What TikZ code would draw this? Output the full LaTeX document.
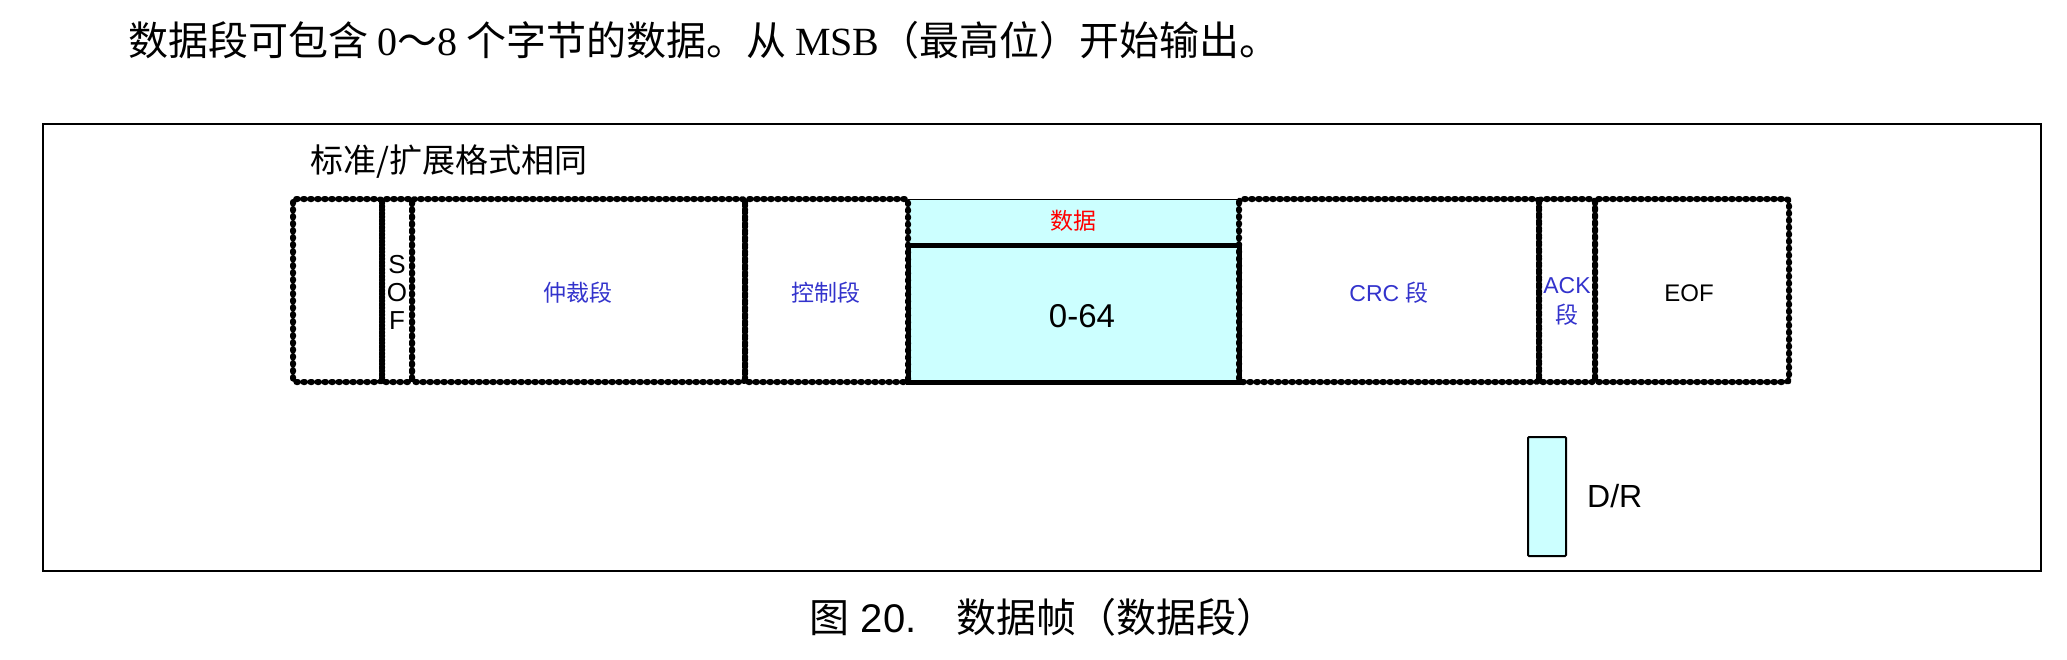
\documentclass[tikz,border=0pt]{standalone}
\usepackage{fontspec}
\setmainfont{Liberation Sans}
\newfontfamily\cjk{Noto Sans CJK SC}
\newfontfamily\serifl{Liberation Serif}
\definecolor{lcyan}{HTML}{CCFFFF}
\definecolor{lblue}{HTML}{3333CC}
\begin{document}
\begin{tikzpicture}[x=1pt,y=-1pt,
  seg/.style={draw, line width=6pt, dash pattern=on 1.6pt off 5.4pt, line cap=round, rounded corners=3pt},
  lbl/.style={font=\fontsize{23}{30}\selectfont, text=lblue, inner sep=0pt, align=center},
  blk/.style={font=\fontsize{26}{28}\selectfont, text=black, inner sep=0pt, align=center}]
\useasboundingbox (0,0) rectangle (2067,659);
% top sentence
\node[anchor=west, inner sep=0pt, font=\fontsize{40}{44}\selectfont] (intro) at (128,40)
  {\cjk 数据段可包含 {\serifl 0}～{\serifl 8} 个字节的数据。从 {\serifl MSB}（最高位）开始输出。};
% outer frame
\draw[line width=2pt] (43,124) rectangle (2041,571);
\node[anchor=west, inner sep=0pt, font=\fontsize{33}{38}\selectfont] (title) at (310,162) {\cjk 标准/扩展格式相同};
% data field fills
\draw[fill=lcyan, line width=1pt] (908,199) rectangle (1239,245);
\fill[lcyan] (908,245) rectangle (1239,382);
% dotted segments
\draw[seg] (293,199) rectangle (382,382);
\draw[seg] (382,199) rectangle (412,382);
\draw[seg] (412,199) rectangle (745,382);
\draw[seg] (745,199) rectangle (908,382);
\draw[seg] (1239,199) rectangle (1539,382);
\draw[seg] (1539,199) rectangle (1595,382);
\draw[seg] (1595,199) rectangle (1789,382);
% thick data box
\draw[line width=5pt] (908,245) rectangle (1239,382);
% labels
\node[blk] (sof) at (397,292) {S\\O\\F};
\node[lbl] (arb) at (578,293) {\cjk 仲裁段};
\node[lbl] (ctl) at (826,293) {\cjk 控制段};
\node[lbl, text=red] (dat) at (1073,221) {\cjk 数据};
\node[blk, font=\fontsize{33}{36}\selectfont] (len) at (1082,316) {0-64};
\node[lbl] (crc) at (1389,293) {CRC {\cjk 段}};
\node[lbl] (ack) at (1567,301) {ACK\\{\cjk 段}};
\node[blk, font=\fontsize{24}{26}\selectfont] (eof) at (1689,293) {EOF};
% D/R
\draw[fill=lcyan, line width=2pt, rounded corners=1pt] (1528,437) rectangle (1566,556);
\node[anchor=west, inner sep=0pt, font=\fontsize{32}{36}\selectfont] (dr) at (1587,496) {D/R};
% caption
\node[inner sep=0pt, font=\fontsize{40}{44}\selectfont] (cap) at (1043,617) {{\cjk 图} 20.\quad{\cjk 数据帧（数据段）}};
\end{tikzpicture}
\end{document}
